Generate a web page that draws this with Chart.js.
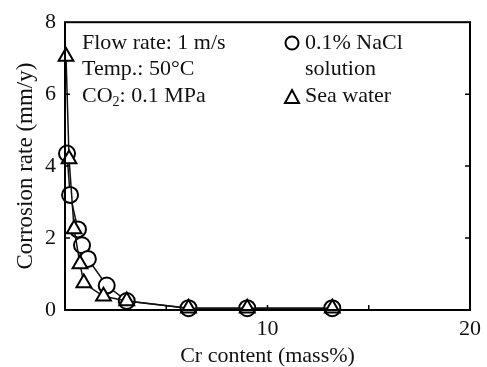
<!DOCTYPE html>
<html>
<head>
<meta charset="utf-8">
<script src="https://cdn.jsdelivr.net/npm/chart.js@4.4.1/dist/chart.umd.min.js"></script>
<style>
  body { margin: 0; background: #fff; }
  #mycanvas { display: block; }
</style>
</head>
<body>
<canvas id="mycanvas" width="487" height="367"></canvas>
<script>
// NaCl solution (circles)
var naclCr = [0.1, 0.25, 0.64, 0.84, 1.13, 2.06, 3.05, 6.1, 9.0, 13.2];
var naclRate = [4.35, 3.2, 2.24, 1.8, 1.42, 0.68, 0.25, 0.05, 0.05, 0.05];
// sea water (triangles)
var seaCr = [0.05, 0.2, 0.45, 0.74, 0.93, 1.9, 3.05, 6.1, 9.0, 13.2];
var seaRate = [7.05, 4.2, 2.25, 1.28, 0.75, 0.38, 0.25, 0.05, 0.05, 0.05];

var xTickLabels = [10, 20];
var conditions = ["Flow rate: 1 m/s", "Temp.: 50\u00B0C"];
var legendLabels = ["0.1% NaCl", "solution", "Sea water"];

var serif = "'Liberation Serif', 'Times New Roman', serif";

function toPoints(xs, ys) {
  var pts = [];
  for (var i in xs) {
    pts.push({x: xs[i], y: ys[i]});
  }
  return pts;
}

// frame + inward ticks + annotation text
var extras = {
  id: 'extras',
  afterDatasetsDraw: function(chart) {
    var ctx = chart.ctx;
    var a = chart.chartArea;
    var xs = chart.scales.x, ys = chart.scales.y;
    ctx.save();
    ctx.strokeStyle = '#000';
    ctx.lineWidth = 2;
    ctx.strokeRect(a.left, a.top, a.right - a.left, a.bottom - a.top);
    ctx.lineWidth = 1.5;
    ctx.beginPath();
    [2, 4, 6].forEach(function(v) {
      var py = ys.getPixelForValue(v);
      ctx.moveTo(a.left, py); ctx.lineTo(a.left + 5, py);
      ctx.moveTo(a.right, py); ctx.lineTo(a.right - 5, py);
    });
    [5, 10, 15].forEach(function(v) {
      var px = xs.getPixelForValue(v);
      ctx.moveTo(px, a.bottom); ctx.lineTo(px, a.bottom - 5);
    });
    ctx.stroke();

    ctx.fillStyle = '#111';
    ctx.font = '22px ' + serif;
    ctx.textAlign = 'left';
    ctx.textBaseline = 'alphabetic';
    ctx.fillText(conditions[0], 82, 49);
    ctx.fillText(conditions[1], 82, 75);
    ctx.fillText('CO', 82, 102);
    var w = ctx.measureText('CO').width;
    ctx.font = '14px ' + serif;
    ctx.fillText('2', 82 + w, 106);
    var w2 = ctx.measureText('2').width;
    ctx.font = '22px ' + serif;
    ctx.fillText(': 0.1 MPa', 82 + w + w2, 102);

    // legend
    ctx.fillText(legendLabels[0], 305, 49);
    ctx.fillText(legendLabels[1], 305, 75);
    ctx.fillText(legendLabels[2], 305, 102);
    ctx.lineWidth = 2;
    ctx.strokeStyle = '#000';
    ctx.beginPath();
    ctx.arc(292, 43, 6.5, 0, Math.PI * 2);
    ctx.stroke();
    ctx.beginPath();
    ctx.moveTo(292, 90); ctx.lineTo(299, 103); ctx.lineTo(285, 103);
    ctx.closePath();
    ctx.stroke();
    ctx.restore();
  }
};

var chartdata = {
  datasets: [
    {
      label: "Sea water",
      data: toPoints(seaCr, seaRate),
      showLine: true,
      borderColor: "#111",
      borderWidth: 1.5,
      pointStyle: 'triangle',
      pointRadius: 8.5,
      pointBorderWidth: 2,
      pointBackgroundColor: "#fff",
      pointBorderColor: "#000",
      clip: false
    },
    {
      label: "0.1% NaCl solution",
      data: toPoints(naclCr, naclRate),
      showLine: true,
      borderColor: "#111",
      borderWidth: 1.5,
      pointStyle: 'circle',
      pointRadius: 8,
      pointBorderWidth: 2,
      pointBackgroundColor: "#fff",
      pointBorderColor: "#000",
      clip: false
    }
  ]
};

var ctx = document.getElementById("mycanvas");
var chart = new Chart(ctx, {
  type: 'scatter',
  data: chartdata,
  plugins: [extras],
  options: {
    responsive: false,
    animation: false,
    layout: { padding: { left: 0, right: 16, top: 17, bottom: 0 } },
    plugins: { legend: { display: false }, tooltip: { enabled: false } },
    scales: {
      x: {
        min: 0, max: 20,
        afterFit: function(s) { s.height = 57; },
        grid: { display: false, drawTicks: false },
        border: { display: false },
        ticks: {
          stepSize: 5, padding: 6, color: '#111', maxRotation: 0,
          font: { family: serif, size: 22 },
          callback: function(v) { return xTickLabels.indexOf(v) >= 0 ? String(v) : ''; }
        },
        title: {
          display: true, text: 'Cr content (mass%)', color: '#111',
          font: { family: serif, size: 22, lineHeight: 1 },
          padding: { top: 0, bottom: 0 }
        }
      },
      y: {
        min: 0, max: 8,
        afterFit: function(s) { s.width = 65; },
        grid: { display: false, drawTicks: false },
        border: { display: false },
        ticks: {
          stepSize: 2, padding: 9, color: '#111',
          font: { family: serif, size: 22 }
        },
        title: {
          display: true, text: 'Corrosion rate (mm/y)', color: '#111',
          font: { family: serif, size: 23, lineHeight: 1 },
          padding: { top: 14, bottom: 0 }
        }
      }
    }
  }
});
</script>
</body>
</html>
